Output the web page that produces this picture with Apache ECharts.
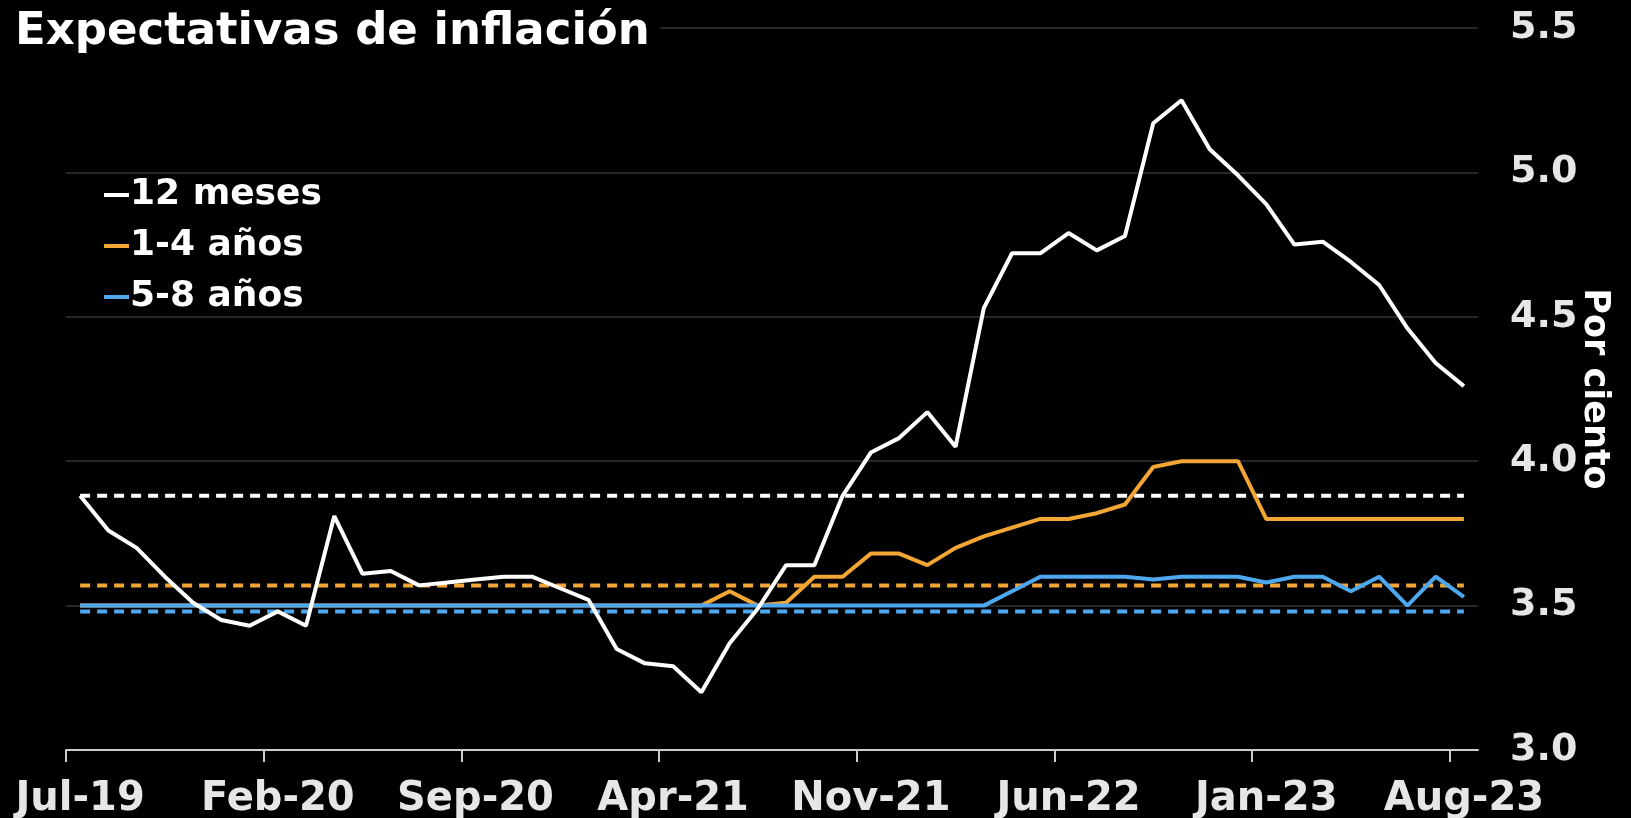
<!DOCTYPE html>
<html>
<head>
<meta charset="utf-8">
<title>Expectativas de inflación</title>
<script src="https://cdn.jsdelivr.net/npm/echarts@6.0.0/dist/echarts.min.js"></script>
<style>
  html, body { margin: 0; padding: 0; background: #000; }
  #chart { width: 1631px; height: 818px; }
</style>
</head>
<body>
<div id="chart"></div>
<script>
const months = [
  'Jul-19', 'Aug-19', 'Sep-19', 'Oct-19', 'Nov-19', 'Dec-19',
  'Jan-20', 'Feb-20', 'Mar-20', 'Apr-20', 'May-20', 'Jun-20', 'Jul-20', 'Aug-20',
  'Sep-20', 'Oct-20', 'Nov-20', 'Dec-20', 'Jan-21', 'Feb-21', 'Mar-21',
  'Apr-21', 'May-21', 'Jun-21', 'Jul-21', 'Aug-21', 'Sep-21', 'Oct-21',
  'Nov-21', 'Dec-21', 'Jan-22', 'Feb-22', 'Mar-22', 'Apr-22', 'May-22',
  'Jun-22', 'Jul-22', 'Aug-22', 'Sep-22', 'Oct-22', 'Nov-22', 'Dec-22',
  'Jan-23', 'Feb-23', 'Mar-23', 'Apr-23', 'May-23', 'Jun-23', 'Jul-23', 'Aug-23',
];
// month boundaries (start of each month), used only for the tick marks
const monthStarts = months.concat(['Sep-23']);

// 12 meses
const meses12 = [
  3.88, 3.76, 3.70, 3.60, 3.51, 3.45, 3.43, 3.48, 3.43, 3.81,
  3.61, 3.62, 3.57, 3.58, 3.59, 3.60, 3.60, 3.56, 3.52, 3.35,
  3.30, 3.29, 3.20, 3.37, 3.49, 3.64, 3.64, 3.88, 4.03, 4.08,
  4.17, 4.05, 4.53, 4.72, 4.72, 4.79, 4.73, 4.78, 5.17, 5.25,
  5.08, 4.99, 4.89, 4.75, 4.76, 4.69, 4.61, 4.46, 4.34, 4.26,
];

// 1-4 años
const anos14 = [
  3.50, 3.50, 3.50, 3.50, 3.50, 3.50, 3.50, 3.50, 3.50, 3.50,
  3.50, 3.50, 3.50, 3.50, 3.50, 3.50, 3.50, 3.50, 3.50, 3.50,
  3.50, 3.50, 3.50, 3.55, 3.50, 3.51, 3.60, 3.60, 3.68, 3.68,
  3.64, 3.70, 3.74, 3.77, 3.80, 3.80, 3.82, 3.85, 3.98, 4.00,
  4.00, 4.00, 3.80, 3.80, 3.80, 3.80, 3.80, 3.80, 3.80, 3.80,
];

// 5-8 años
const anos58 = [
  3.50, 3.50, 3.50, 3.50, 3.50, 3.50, 3.50, 3.50, 3.50, 3.50,
  3.50, 3.50, 3.50, 3.50, 3.50, 3.50, 3.50, 3.50, 3.50, 3.50,
  3.50, 3.50, 3.50, 3.50, 3.50, 3.50, 3.50, 3.50, 3.50, 3.50,
  3.50, 3.50, 3.50, 3.55, 3.60, 3.60, 3.60, 3.60, 3.59, 3.60,
  3.60, 3.60, 3.58, 3.60, 3.60, 3.55, 3.60, 3.50, 3.60, 3.53,
];

// promedios (líneas punteadas)
const avg12 = 3.88;
const avg14 = 3.57;
const avg58 = 3.48;

const WHITE = '#ffffff';
const ORANGE = '#f3a535';
const BLUE = '#4ea8f0';
const FONT = 'DejaVu Sans';

const chart = echarts.init(document.getElementById('chart'));

function dashed(value, color) {
  return {
    type: 'line',
    data: months.map(() => value),
    symbol: 'none',
    silent: true,
    lineStyle: { color: color, width: 4, type: [10, 7] },
    z: 1,
  };
}

function solid(name, data, color, z) {
  return {
    name: name,
    type: 'line',
    data: data,
    symbol: 'none',
    lineStyle: { color: color, width: 4 },
    itemStyle: { color: color },
    z: z,
  };
}

chart.setOption({
  backgroundColor: '#000',
  animation: false,
  title: {
    text: 'Expectativas de inflación',
    left: 15,
    top: 10,
    padding: [0, 10, 0, 0],
    backgroundColor: '#000',
    textStyle: { color: WHITE, fontFamily: FONT, fontWeight: 'bold', fontSize: 45 },
  },
  legend: {
    orient: 'vertical',
    left: 99,
    top: 172,
    itemGap: 15,
    itemWidth: 25,
    itemHeight: 4,
    icon: 'rect',
    data: ['12 meses', '1-4 años', '5-8 años'],
    textStyle: { color: WHITE, fontFamily: FONT, fontWeight: 'bold', fontSize: 36, padding: [0, 0, 0, -4] },
  },
  grid: { left: 66, right: 153, top: 28, bottom: 68, outerBoundsMode: 'none' },
  xAxis: [
    {
      type: 'category',
      data: months,
      boundaryGap: true,
      axisLine: { lineStyle: { color: '#cccccc', width: 2 } },
      axisTick: { show: false },
      axisLabel: {
        interval: 6,
        margin: 30,
        color: '#e6e6e6',
        fontFamily: FONT,
        fontWeight: 'bold',
        fontSize: 40,
      },
      splitLine: { show: false },
    },
    {
      // tick marks on the month boundaries
      type: 'category',
      data: monthStarts,
      position: 'bottom',
      boundaryGap: false,
      axisLine: { show: false },
      axisTick: { show: true, interval: 6, length: 12, lineStyle: { color: '#cccccc', width: 2 } },
      axisLabel: { show: false, interval: 6 },
      splitLine: { show: false },
    },
  ],
  yAxis: {
    type: 'value',
    position: 'right',
    min: 3.0,
    max: 5.5,
    interval: 0.5,
    name: 'Por ciento',
    nameLocation: 'middle',
    nameRotate: -90,
    nameGap: 99,
    nameMoveOverlap: false,
    nameTextStyle: { color: WHITE, fontFamily: FONT, fontWeight: 'bold', fontSize: 35 },
    axisLine: { show: false },
    axisTick: { show: false },
    axisLabel: {
      margin: 32,
      color: '#e6e6e6',
      fontFamily: FONT,
      fontWeight: 'bold',
      fontSize: 38,
      formatter: (v) => v.toFixed(1),
    },
    splitLine: { lineStyle: { color: '#333333', width: 1.5 } },
  },
  series: [
    dashed(avg12, WHITE),
    dashed(avg14, ORANGE),
    dashed(avg58, BLUE),
    solid('1-4 años', anos14, ORANGE, 3),
    solid('5-8 años', anos58, BLUE, 4),
    solid('12 meses', meses12, WHITE, 5),
  ],
});
</script>
</body>
</html>
